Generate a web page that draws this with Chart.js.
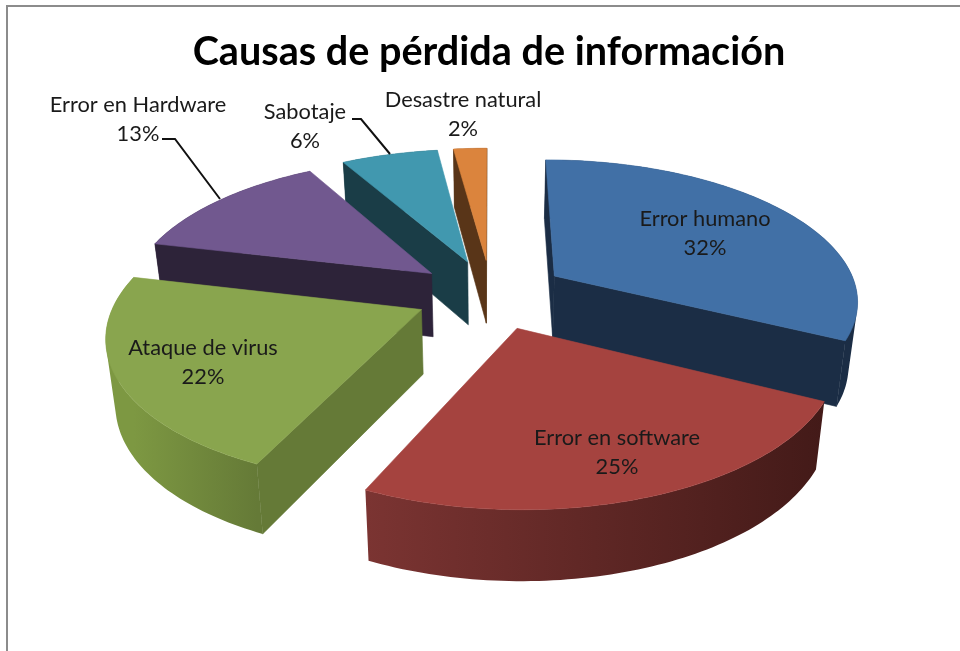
<!DOCTYPE html>
<html>
<head>
<meta charset="utf-8">
<title>Causas de pérdida de información</title>
<script src="https://cdn.jsdelivr.net/npm/chart.js@4"></script>
<style>
  html, body { margin: 0; background: #fff; overflow: hidden; }
  #frame { position: absolute; left: 6px; top: 5px; width: 1000px; height: 700px; border: 2px solid #8c8c8c; }
  #chart { position: absolute; left: 0; top: 0; }
</style>
</head>
<body>
<div id="frame"></div>
<canvas id="chart" width="960" height="651"></canvas>
<script>
const categories = ['Error humano', 'Error en software', 'Ataque de virus', 'Error en Hardware', 'Sabotaje', 'Desastre natural'];
const shares = [32.4, 24.5, 21.8, 13.1, 6.1, 2.1];
const topColors = ['#4170a6', '#a5433f', '#89a54e', '#71588f', '#4198af', '#db843d'];
const wallColors = ['#1b2d45', '#451c1b', '#657a37', '#2d2339', '#1a3d47', '#593518'];
const rimFrom = ['#1b2d45', '#431a18', '#657a37', '#2d2339', '#1a3d47', '#593518'];
const rimTo = ['#1b2d45', '#7b3432', '#7d9842', '#2d2339', '#1a3d47', '#593518'];

// label centres and optional leader lines, in page pixels
const labelSpots = [[705, 219], [617, 438], [203, 348], [138, 105], [305, 112], [463, 100]];
const leaders = [null, null, null, [[162, 139], [175, 139], [220, 199]], [[352, 119], [361, 119], [390, 154]], null];

// ground plane -> screen, fitted by eye to the reference
const CX = 491, CY = 294, A = 304, B = 140, K = 0.16;
const EXPLODE = 0.25, DEPTH = 64, CONVERGE = 0.975;

function project(u, v) {
  const w = 1 - K * v;
  return { x: CX + A * u / w, y: CY + B * v / w, w };
}
function drop(p) {
  return { x: CX + (p.x - CX) * CONVERGE, y: p.y + DEPTH / Math.sqrt(p.w) };
}
function tracePoly(ctx, pts) {
  pts.forEach((p, i) => (i ? ctx.lineTo(p.x, p.y) : ctx.moveTo(p.x, p.y)));
  ctx.closePath();
}
function fillPoly(ctx, pts, color) {
  ctx.beginPath();
  tracePoly(ctx, pts);
  ctx.fillStyle = color;
  ctx.strokeStyle = color;
  ctx.lineWidth = 0.6;
  ctx.fill();
  ctx.stroke();
}
function signedArea(pts) {
  return pts.reduce((sum, p, i) => {
    const q = pts[(i + 1) % pts.length];
    return sum + p.x * q.y - q.x * p.y;
  }, 0);
}
// a radial wall shows only when going down from it leaves the slice
function wallFaces(apex, edge, inside) {
  const cross = (a, b, c) => (b.x - a.x) * (c.y - a.y) - (b.y - a.y) * (c.x - a.x);
  const below = { x: apex.x, y: apex.y + 1 };
  const shifted = { x: below.x + (edge.x - apex.x), y: below.y + (edge.y - apex.y) };
  return cross(apex, edge, inside) * cross(apex, edge, shifted) < 0;
}

function drawSlice(ctx, s) {
  const { arc, i } = s;
  const { startAngle, endAngle } = arc.getProps(['startAngle', 'endAngle'], true);
  const steps = Math.max(4, Math.ceil((endAngle - startAngle) / 0.02));
  const top = [];
  for (let n = 0; n <= steps; n++) {
    const t = startAngle + (endAngle - startAngle) * n / steps;
    top.push(project(s.ou + Math.cos(t), s.ov + Math.sin(t)));
  }
  const apex = project(s.ou, s.ov);
  const first = top[0], last = top[steps], middle = top[steps >> 1];

  const shade = ctx.createLinearGradient(first.x, 0, last.x, 0);
  shade.addColorStop(0, rimFrom[i]);
  shade.addColorStop(1, rimTo[i]);
  // all quads in one path with the same winding, separate fills leave seams
  ctx.beginPath();
  for (let n = 0; n < steps; n++) {
    const quad = [top[n], top[n + 1], drop(top[n + 1]), drop(top[n])];
    tracePoly(ctx, signedArea(quad) < 0 ? quad.reverse() : quad);
  }
  ctx.fillStyle = shade;
  ctx.fill();

  [first, last].forEach(edge => {
    if (wallFaces(apex, edge, middle)) fillPoly(ctx, [apex, edge, drop(edge), drop(apex)], wallColors[i]);
  });
  fillPoly(ctx, [apex, ...top], topColors[i]);
}

const pie3d = {
  id: 'pie3d',
  beforeDatasetsDraw(chart) {
    const ctx = chart.ctx;
    const slices = chart.getDatasetMeta(0).data.map((arc, i) => {
      const { startAngle, endAngle } = arc.getProps(['startAngle', 'endAngle'], true);
      const mid = (startAngle + endAngle) / 2;
      return { arc, i, ou: EXPLODE * Math.cos(mid), ov: EXPLODE * Math.sin(mid) };
    });
    ctx.save();
    slices.sort((a, b) => a.ov - b.ov).forEach(s => drawSlice(ctx, s));
    ctx.restore();
    return false;
  },
  // afterDatasetsDraw is skipped once beforeDatasetsDraw cancels, so labels go here
  afterDraw(chart) {
    const ctx = chart.ctx;
    ctx.save();
    ctx.strokeStyle = '#111';
    ctx.lineWidth = 2;
    leaders.forEach(line => {
      if (!line) return;
      ctx.beginPath();
      line.forEach(([x, y], n) => (n ? ctx.lineTo(x, y) : ctx.moveTo(x, y)));
      ctx.stroke();
    });
    ctx.font = '21.8px Lato';
    ctx.fillStyle = '#1a1a1a';
    ctx.textAlign = 'center';
    ctx.textBaseline = 'middle';
    categories.forEach((name, i) => {
      const [x, y] = labelSpots[i];
      ctx.fillText(name, x, y);
      ctx.fillText(Math.round(shares[i]) + '%', x, y + 29);
    });
    ctx.restore();
  },
};

new Chart(document.getElementById('chart'), {
  type: 'pie',
  data: {
    labels: categories,
    datasets: [{ data: shares, backgroundColor: topColors }],
  },
  options: {
    responsive: false,
    animation: false,
    layout: { padding: { left: 18, top: 28 } },
    plugins: {
      legend: { display: false },
      tooltip: { enabled: false },
      title: {
        display: true,
        text: 'Causas de pérdida de información',
        color: '#000',
        font: { family: 'Lato', size: 39.6, weight: 'bold' },
        padding: 0,
      },
    },
  },
  plugins: [pie3d],
});
</script>
</body>
</html>
